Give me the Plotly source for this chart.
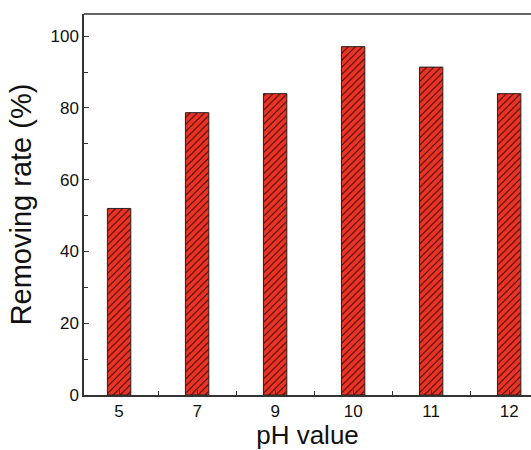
import plotly.graph_objects as go

categories = ["5", "7", "9", "10", "11", "12"]
removing_rate = [52.0, 78.7, 84.0, 97.1, 91.4, 84.0]

xpos = list(range(len(categories)))

fig = go.Figure()
fig.add_trace(go.Bar(
    x=xpos, y=removing_rate, width=0.3,
    marker=dict(color="#EE3324",
                line=dict(color="#222222", width=1),
                pattern=dict(shape="/", fgcolor="#2a0a08", bgcolor="#EE3324",
                             size=5, solidity=0.2, fillmode="replace")),
    showlegend=False,
))

font_family = "Liberation Sans, Arial, sans-serif"
fig.update_layout(
    width=531, height=450,
    margin=dict(l=84, r=0, t=14, b=55),
    plot_bgcolor="white", paper_bgcolor="white",
    font=dict(family=font_family, color="#111111"),
    xaxis=dict(
        range=[-0.45, 5.28],
        tickmode="array", tickvals=xpos, ticktext=categories,
        ticks="inside", ticklen=5, tickcolor="#333333", tickwidth=1,
        minor=dict(dtick=0.5, tick0=0.5, ticks="inside", ticklen=4, tickcolor="#333333"),
        showline=True, linecolor="#333333", linewidth=1.5,
        showgrid=False, zeroline=False,
        tickfont=dict(size=17),
        title=dict(text="pH value", font=dict(size=26), standoff=4),
    ),
    yaxis=dict(
        range=[0, 106.2],
        tickmode="linear", tick0=0, dtick=20,
        ticks="inside", ticklen=5, tickcolor="#333333", tickwidth=1,
        minor=dict(dtick=10, ticks="inside", ticklen=4, tickcolor="#333333"),
        showline=True, linecolor="#333333", linewidth=1.5,
        showgrid=False, zeroline=False,
        tickfont=dict(size=17),
        title=dict(text="Removing rate (%)", font=dict(size=29), standoff=10),
    ),
    shapes=[dict(type="line", xref="paper", yref="paper", x0=0, x1=1, y0=1, y1=1,
                 line=dict(color="#333333", width=1.5))],
)

fig.write_html("out.html",
               config={"displayModeBar": False},
               post_script="document.body.style.margin='0';document.body.style.overflow='hidden';")
